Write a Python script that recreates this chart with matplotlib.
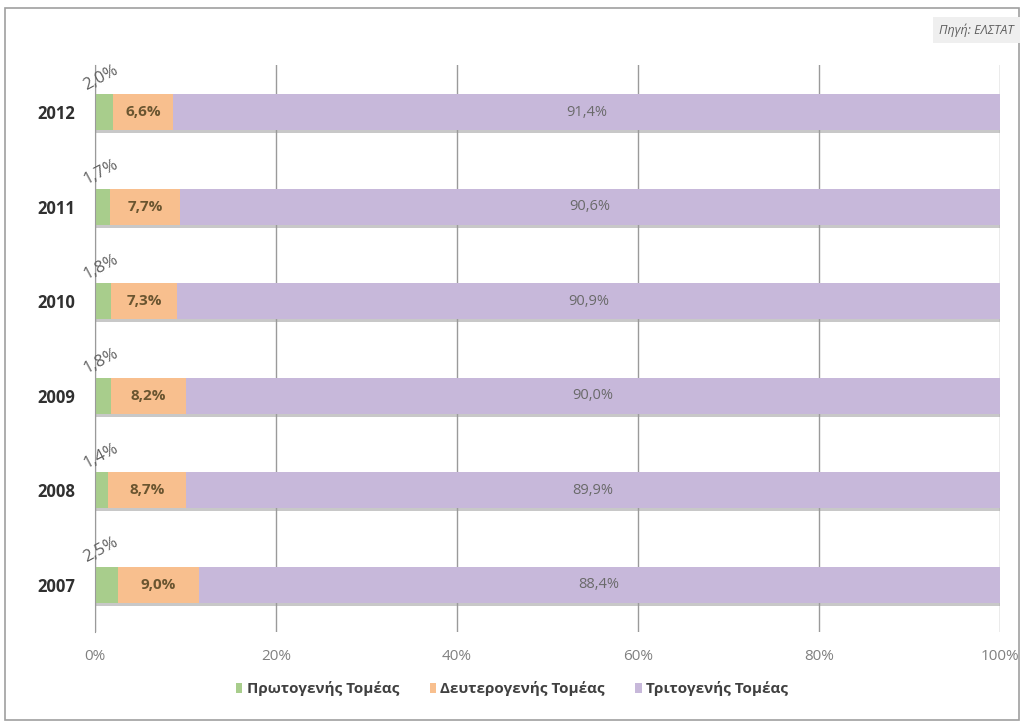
import numpy as np
import matplotlib.pyplot as plt
from matplotlib.patches import Rectangle

plt.rcParams['font.family'] = ['Open Sans', 'DejaVu Sans']

# Shares of employment by sector (%)
years = ['2012', '2011', '2010', '2009', '2008', '2007']
primary = [2.0, 1.7, 1.8, 1.8, 1.4, 2.5]
secondary = [6.6, 7.7, 7.3, 8.2, 8.7, 9.0]
tertiary = [91.4, 90.6, 90.9, 90.0, 89.9, 88.4]
sector_names = ['Πρωτογενής Τομέας', 'Δευτερογενής Τομέας', 'Τριτογενής Τομέας']
colors = ['#a8cd8c', '#f8bf8e', '#c7b8da']

fig = plt.figure(figsize=(10.24, 7.22), dpi=100)
fig.patch.set_facecolor('white')

# outer frame
fig.patches.append(Rectangle((5 / 1024, 2 / 722), 1014 / 1024, 712 / 722,
                             transform=fig.transFigure, fill=False,
                             edgecolor='#a0a0a0', lw=1.2))

ax = fig.add_axes([95 / 1024, 90 / 722, 905 / 1024, 567 / 722])

y = np.arange(len(years))[::-1]
h = 0.38
total = np.array(primary) + np.array(secondary) + np.array(tertiary)
p = np.array(primary) / total * 100
s = np.array(secondary) / total * 100
t = np.array(tertiary) / total * 100

# thin shadow under each bar
ax.barh(y - 0.03, 100, height=h, color='#c8c8c8', zorder=1)
ax.barh(y, p, height=h, color=colors[0], label=sector_names[0], zorder=2)
ax.barh(y, s, left=p, height=h, color=colors[1], label=sector_names[1], zorder=2)
ax.barh(y, t, left=p + s, height=h, color=colors[2], label=sector_names[2], zorder=2)

for yi, a, b, c in zip(y, primary, secondary, tertiary):
    ax.text(-1.6, yi + h / 2 + 0.01, f'{a:.1f}%'.replace('.', ','), rotation=28,
            ha='left', va='bottom', fontsize=12, color='#606060', zorder=3)
    ax.text(a + b / 2, yi, f'{b:.1f}%'.replace('.', ','), ha='center', va='center',
            fontsize=11, color='#6a5530', fontweight='bold', zorder=3)
    ax.text(a + b + c / 2, yi, f'{c:.1f}%'.replace('.', ','), ha='center', va='center',
            fontsize=10.5, color='#6a6a6a', zorder=3)

ax.set_xlim(0, 100)
ax.set_ylim(-0.5, len(years) - 0.5)
ax.set_xticks(np.arange(0, 101, 20))
ax.set_xticklabels([f'{v}%' for v in range(0, 101, 20)], color='#808080', fontsize=11)
ax.set_yticks(y)
ax.set_yticklabels(years, fontsize=12, fontweight='bold', color='#303030')
ax.tick_params(axis='both', length=0, pad=12)
ax.tick_params(axis='y', pad=14)
ax.grid(axis='x', color='#9a9a9a', lw=1.0, zorder=0)
for side in ['top', 'right', 'bottom']:
    ax.spines[side].set_visible(False)
ax.spines['left'].set_color('#9a9a9a')

leg = fig.legend(loc='center', bbox_to_anchor=(0.5, 33 / 722), ncol=3, frameon=False,
                 handlelength=0.4, handleheight=0.6, handletextpad=0.3, columnspacing=2.0,
                 prop={'size': 11, 'weight': 'bold'})
for txt in leg.get_texts():
    txt.set_color('#404040')

# source note, top right
fig.text(1014 / 1024, 692 / 722, 'Πηγή: ΕΛΣΤΑΤ', ha='right', va='center', fontsize=9,
         style='italic', color='#606060',
         bbox=dict(boxstyle='square,pad=0.5', fc='#efefef', ec='none'))

fig.savefig('out.png', dpi=100)
